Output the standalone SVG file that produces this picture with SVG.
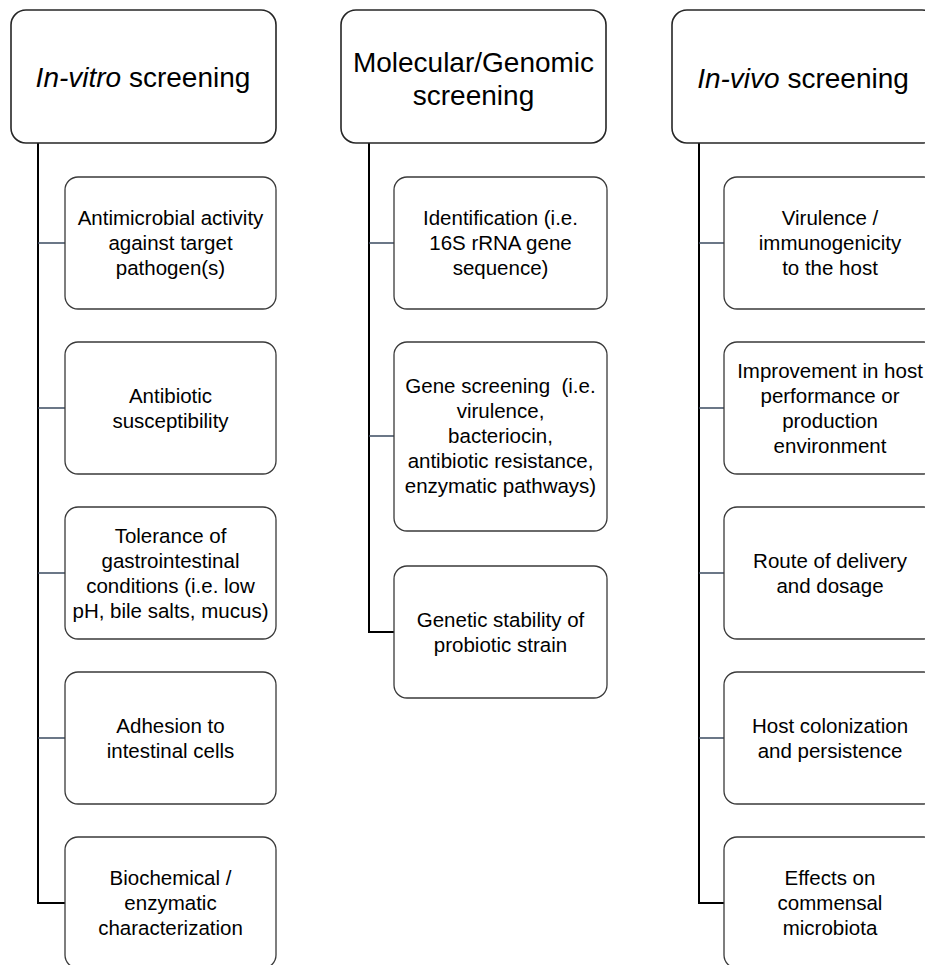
<svg xmlns="http://www.w3.org/2000/svg" width="925" height="965" viewBox="0 0 925 965">
<style>
  .hdr { fill: #ffffff; stroke: #262626; stroke-width: 1.6; }
  .box { fill: #ffffff; stroke: #3a3a3a; stroke-width: 1.3; }
  .ht { font-family: "Liberation Sans", Arial, sans-serif; font-size: 28px; fill: #000; text-anchor: middle; }
  .bt { font-family: "Liberation Sans", Arial, sans-serif; font-size: 20.5px; fill: #000; text-anchor: middle; white-space: pre; }
  .trunk { fill: none; stroke: #000; stroke-width: 2; }
  .branch { fill: none; stroke: #3b4b60; stroke-width: 1.5; }
</style>
<rect width="925" height="965" fill="#ffffff"/>

<g id="connectors">
  <path class="trunk" d="M38,143 V903 H65"/>
  <path class="branch" d="M38,243 H65 M38,408 H65 M38,573 H65 M38,738 H65"/>
  <path class="trunk" d="M369,143 V632 H394"/>
  <path class="branch" d="M369,243 H394 M369,436 H394"/>
  <path class="trunk" d="M699,143 V903 H724"/>
  <path class="branch" d="M699,243 H724 M699,408 H724 M699,573 H724 M699,738 H724"/>
</g>

<g id="h-invitro">
  <rect class="hdr" x="11" y="10" width="265" height="133" rx="15"/>
  <text class="ht" x="143" y="87"><tspan font-style="italic">In-vitro</tspan> screening</text>
</g>
<g id="h-molecular">
  <rect class="hdr" x="341" y="10" width="265" height="133" rx="15"/>
  <text class="ht" x="473.5" y="72">Molecular/Genomic</text>
  <text class="ht" x="473.5" y="105">screening</text>
</g>
<g id="h-invivo">
  <rect class="hdr" x="672" y="10" width="265" height="133" rx="15"/>
  <text class="ht" x="803" y="88"><tspan font-style="italic">In-vivo</tspan> screening</text>
</g>

<g id="c1-antimicrobial">
  <rect class="box" x="65" y="177" width="211" height="132" rx="13"/>
  <text class="bt" x="170.5" y="225">Antimicrobial activity</text>
  <text class="bt" x="170.5" y="250">against target</text>
  <text class="bt" x="170.5" y="275">pathogen(s)</text>
</g>
<g id="c1-antibiotic">
  <rect class="box" x="65" y="342" width="211" height="132" rx="13"/>
  <text class="bt" x="170.5" y="402.5">Antibiotic</text>
  <text class="bt" x="170.5" y="427.5">susceptibility</text>
</g>
<g id="c1-tolerance">
  <rect class="box" x="65" y="507" width="211" height="132" rx="13"/>
  <text class="bt" x="170.5" y="542.5">Tolerance of</text>
  <text class="bt" x="170.5" y="567.5">gastrointestinal</text>
  <text class="bt" x="170.5" y="592.5">conditions (i.e. low</text>
  <text class="bt" x="170.5" y="617.5">pH, bile salts, mucus)</text>
</g>
<g id="c1-adhesion">
  <rect class="box" x="65" y="672" width="211" height="132" rx="13"/>
  <text class="bt" x="170.5" y="732.5">Adhesion to</text>
  <text class="bt" x="170.5" y="757.5">intestinal cells</text>
</g>
<g id="c1-biochemical">
  <rect class="box" x="65" y="837" width="211" height="131" rx="13"/>
  <text class="bt" x="170.5" y="885">Biochemical /</text>
  <text class="bt" x="170.5" y="910">enzymatic</text>
  <text class="bt" x="170.5" y="935">characterization</text>
</g>

<g id="c2-identification">
  <rect class="box" x="394" y="177" width="213" height="132" rx="13"/>
  <text class="bt" x="500.5" y="225">Identification (i.e.</text>
  <text class="bt" x="500.5" y="250">16S rRNA gene</text>
  <text class="bt" x="500.5" y="275">sequence)</text>
</g>
<g id="c2-gene">
  <rect class="box" x="394" y="342" width="213" height="189" rx="13"/>
  <text class="bt" x="500.5" y="393">Gene screening  (i.e.</text>
  <text class="bt" x="500.5" y="418">virulence,</text>
  <text class="bt" x="500.5" y="443">bacteriocin,</text>
  <text class="bt" x="500.5" y="468">antibiotic resistance,</text>
  <text class="bt" x="500.5" y="493">enzymatic pathways)</text>
</g>
<g id="c2-stability">
  <rect class="box" x="394" y="566" width="213" height="132" rx="13"/>
  <text class="bt" x="500.5" y="626.5">Genetic stability of</text>
  <text class="bt" x="500.5" y="651.5">probiotic strain</text>
</g>

<g id="c3-virulence">
  <rect class="box" x="724" y="177" width="213" height="132" rx="13"/>
  <text class="bt" x="830" y="225">Virulence /</text>
  <text class="bt" x="830" y="250">immunogenicity</text>
  <text class="bt" x="830" y="275">to the host</text>
</g>
<g id="c3-improvement">
  <rect class="box" x="724" y="342" width="213" height="132" rx="13"/>
  <text class="bt" x="830" y="377.5">Improvement in host</text>
  <text class="bt" x="830" y="402.5">performance or</text>
  <text class="bt" x="830" y="427.5">production</text>
  <text class="bt" x="830" y="452.5">environment</text>
</g>
<g id="c3-route">
  <rect class="box" x="724" y="507" width="213" height="132" rx="13"/>
  <text class="bt" x="830" y="567.5">Route of delivery</text>
  <text class="bt" x="830" y="592.5">and dosage</text>
</g>
<g id="c3-colonization">
  <rect class="box" x="724" y="672" width="213" height="132" rx="13"/>
  <text class="bt" x="830" y="732.5">Host colonization</text>
  <text class="bt" x="830" y="757.5">and persistence</text>
</g>
<g id="c3-effects">
  <rect class="box" x="724" y="837" width="213" height="131" rx="13"/>
  <text class="bt" x="830" y="885">Effects on</text>
  <text class="bt" x="830" y="910">commensal</text>
  <text class="bt" x="830" y="935">microbiota</text>
</g>
</svg>
